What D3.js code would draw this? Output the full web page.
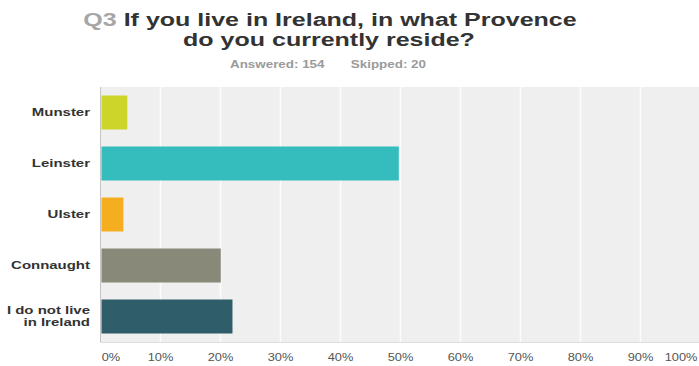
<!DOCTYPE html>
<html>
<head>
<meta charset="utf-8">
<script src="https://cdn.jsdelivr.net/npm/d3@7"></script>
<style>
  html, body { margin: 0; padding: 0; background: #fff; }
  svg { display: block; }
  text { font-family: "Liberation Sans", Arial, Helvetica, sans-serif; }
</style>
</head>
<body>
<svg id="chart" width="699" height="366"></svg>
<script>
// Survey question Q3: province of residence
const categories = ["Munster", "Leinster", "Ulster", "Connaught", "I do not live\nin Ireland"];
const percents = [4.55, 49.8, 3.90, 20.13, 22.08];
const barColors = ["#cdd52a", "#35bcbd", "#f6ae21", "#888978", "#2f5d6a"];
const tickValues = [0, 10, 20, 30, 40, 50, 60, 70, 80, 90, 100];
const answered = 154;
const skipped = 20;

const W = 699, H = 366;
const plot = { left: 100, right: 700, top: 87, bottom: 342 };
const STRETCH = 1.36;   // wide lettering used throughout

const svg = d3.select("#chart");

const x = d3.scaleLinear().domain([0, 100]).range([plot.left, plot.right]);
const y = d3.scaleBand()
  .domain(categories)
  .range([plot.top, plot.bottom])
  .paddingInner(1 / 3)
  .paddingOuter(1 / 6);

// helper: place a horizontally stretched text
function stretchedText(sel, tx, ty, sx) {
  return sel.attr("transform", `translate(${tx},${ty}) scale(${sx},1)`);
}

// ---- Title ----
const title = svg.append("g");
const t1 = stretchedText(title.append("text"), 330, 25.5, 1.39)
  .attr("text-anchor", "middle")
  .attr("font-size", 18).attr("font-weight", "bold").attr("fill", "#333");
t1.append("tspan").attr("fill", "#a6a6a6").text("Q3");
t1.append("tspan").text(" If you live in Ireland, in what Provence");
stretchedText(title.append("text"), 329, 45.5, 1.39)
  .attr("text-anchor", "middle")
  .attr("font-size", 18).attr("font-weight", "bold").attr("fill", "#333")
  .text("do you currently reside?");

// ---- Answered / skipped ----
stretchedText(svg.append("text"), 230, 68, 1.34)
  .attr("font-size", 10).attr("font-weight", "bold").attr("fill", "#9a9a9a")
  .text(`Answered: ${answered}`);
stretchedText(svg.append("text"), 426, 68, 1.34)
  .attr("text-anchor", "end")
  .attr("font-size", 10).attr("font-weight", "bold").attr("fill", "#9a9a9a")
  .text(`Skipped: ${skipped}`);

// ---- Plot background ----
svg.append("rect")
  .attr("x", plot.left).attr("y", plot.top)
  .attr("width", W - plot.left).attr("height", plot.bottom - plot.top)
  .attr("fill", "#efefef");

// ---- Vertical gridlines ----
const grid = svg.append("g")
  .attr("transform", `translate(0,${plot.bottom})`)
  .call(d3.axisBottom(x).tickValues(tickValues.slice(1)).tickSize(-(plot.bottom - plot.top)).tickFormat(""));
grid.select(".domain").remove();
grid.selectAll(".tick line").attr("stroke", "#fbfbfb").attr("stroke-width", 1.6);

// bottom edge of plot
svg.append("line")
  .attr("x1", plot.left).attr("x2", W)
  .attr("y1", plot.bottom + 0.5).attr("y2", plot.bottom + 0.5)
  .attr("stroke", "#dedede");

// ---- Bars ----
svg.append("g").selectAll("rect")
  .data(categories)
  .join("rect")
  .attr("x", x(0) + 1.5)
  .attr("y", d => y(d))
  .attr("width", (d, i) => x(percents[i]) - x(0) - 1.5)
  .attr("height", y.bandwidth())
  .attr("fill", (d, i) => barColors[i]);

// ---- Left axis line ----
svg.append("line")
  .attr("x1", plot.left + 0.5).attr("x2", plot.left + 0.5)
  .attr("y1", plot.top).attr("y2", plot.bottom)
  .attr("stroke", "#c4c4c4");

// ---- Category labels ----
const yAxis = svg.append("g")
  .attr("transform", `translate(${plot.left - 10},0)`)
  .call(d3.axisLeft(y).tickSize(0).tickPadding(0));
yAxis.select(".domain").remove();
yAxis.selectAll(".tick text").each(function (d) {
  const t = d3.select(this);
  const lines = d.split("\n");
  t.text(null)
    .attr("x", 0).attr("dy", null)
    .attr("y", lines.length > 1 ? -2.3 : 3.8)
    .attr("text-anchor", "end")
    .attr("font-family", "'Liberation Sans', Arial, sans-serif")
    .attr("font-size", 11).attr("font-weight", "bold").attr("fill", "#333")
    .attr("transform", `scale(${STRETCH},1)`);
  lines.forEach((ln, i) => {
    t.append("tspan").attr("x", 0).attr("dy", i === 0 ? 0 : 11.6).text(ln);
  });
});

// ---- Percentage tick labels ----
const xAxis = svg.append("g")
  .attr("transform", `translate(0,${plot.bottom})`)
  .call(d3.axisBottom(x).tickValues(tickValues).tickSize(0).tickPadding(0).tickFormat(d => d + "%"));
xAxis.select(".domain").remove();
xAxis.selectAll(".tick text")
  .attr("y", 19).attr("dy", null)
  .attr("font-family", "'Liberation Sans', Arial, sans-serif")
  .attr("font-size", 10.5).attr("fill", "#555")
  .attr("transform", "scale(1.22,1)")
  .attr("text-anchor", d => d === 0 ? "start" : d === 100 ? "end" : "middle")
  .attr("x", d => d === 0 ? 1 : d === 100 ? -2.5 : 0);
</script>
</body>
</html>
